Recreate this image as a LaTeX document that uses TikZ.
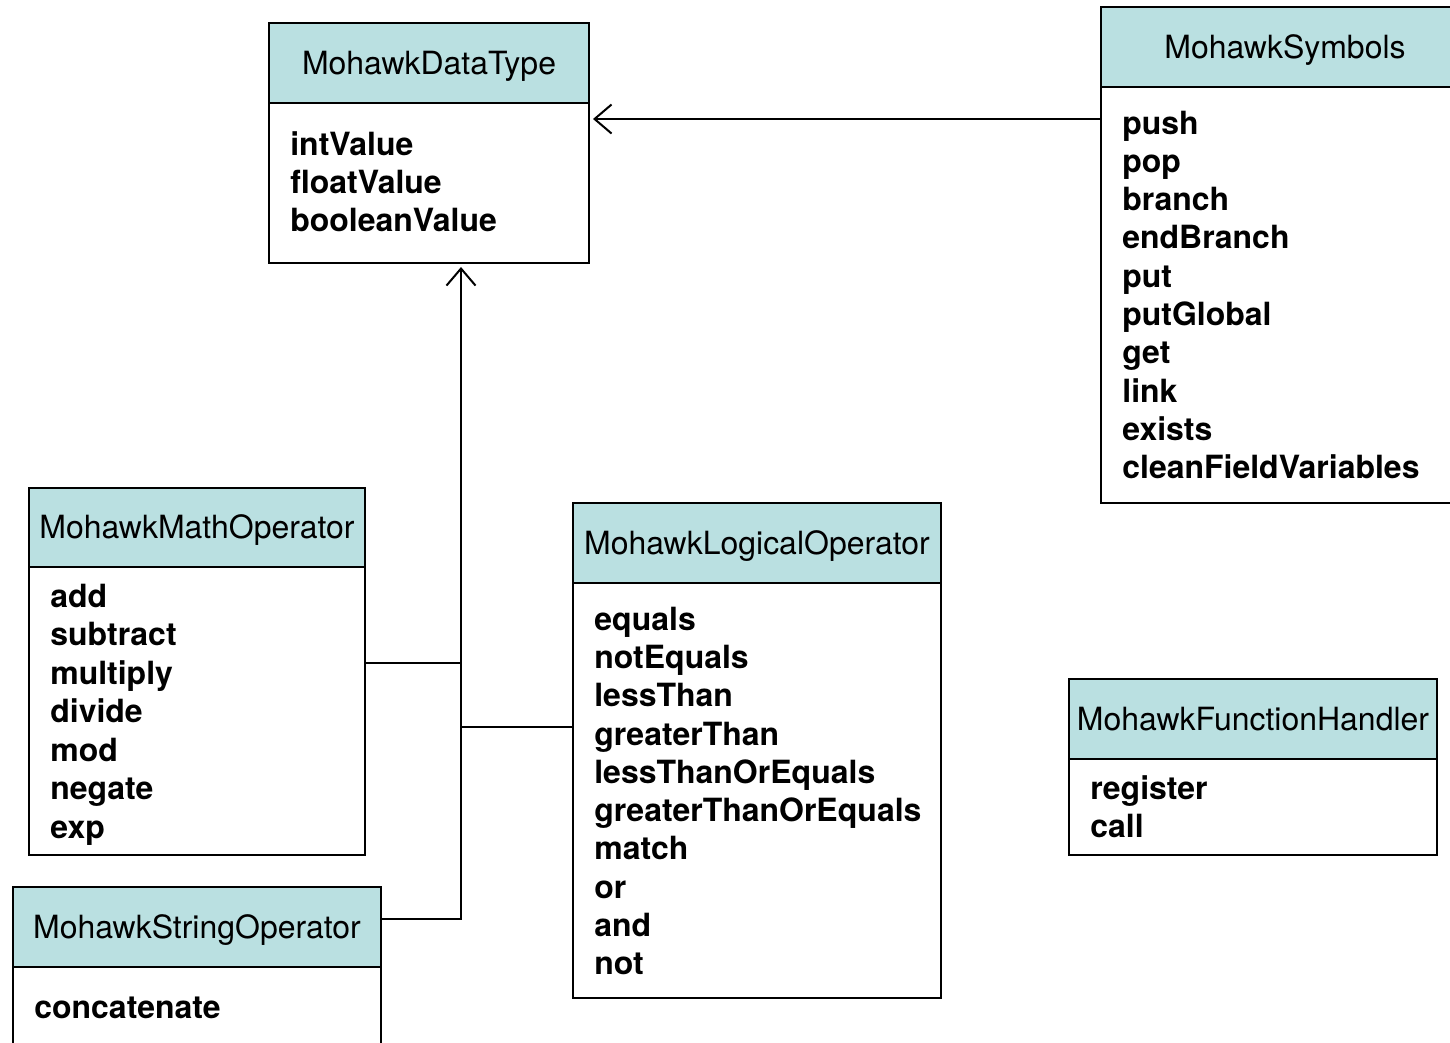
\documentclass[tikz,border=0pt]{standalone}
\usepackage{fontspec}
\setmainfont{TeX Gyre Heros}
\usetikzlibrary{arrows.meta}
\definecolor{hdrfill}{RGB}{186,224,225}
\def\pxl{0.02cm}
\tikzset{
  hdr/.style={draw, fill=hdrfill, line width=0.05cm, inner sep=0pt, outer sep=0pt, anchor=north west,
    font=\fontsize{18.2}{22}\selectfont, text height=13pt, text depth=0pt},
  bodybox/.style={draw, fill=white, line width=0.05cm, inner sep=0pt, outer sep=0pt, anchor=north west},
  item/.style={anchor=base west, inner sep=0pt, font=\fontsize{18.2}{22}\selectfont\bfseries},
  conn/.style={line width=0.04cm},
  inh/.style={conn, -{Straight Barb[length=0.34cm, width=0.58cm, line width=0.04cm]}, shorten >=0.08cm}
}
\begin{document}
\begin{tikzpicture}[x=0.02cm, y=-0.02cm]
\clip (0,0) rectangle (1450,1042);
\fill[white] (0,0) rectangle (1450,1042);

% MohawkDataType
\node[hdr, minimum width=320*\pxl, minimum height=80*\pxl] (dt) at (269,23) {MohawkDataType};
\node[bodybox, minimum width=320*\pxl, minimum height=160*\pxl] (dtb) at (dt.south west) {};
\foreach \t [count=\i] in {intValue,floatValue,booleanValue}
  \node[item] (dt-\i) at (290,{155+(\i-1)*38.4}) {\t};

% MohawkSymbols (runs past the right edge)
\node[hdr, minimum width=368*\pxl, minimum height=80*\pxl] (sy) at (1101,7) {MohawkSymbols};
\node[bodybox, minimum width=368*\pxl, minimum height=416*\pxl] (syb) at (sy.south west) {};
\foreach \t [count=\i] in {push,pop,branch,endBranch,put,putGlobal,get,link,exists,cleanFieldVariables}
  \node[item] (sy-\i) at (1122,{134+(\i-1)*38.33}) {\t};

% MohawkMathOperator
\node[hdr, minimum width=336*\pxl, minimum height=79*\pxl] (mo) at (29,488) {MohawkMathOperator};
\node[bodybox, minimum width=336*\pxl, minimum height=288*\pxl] (mob) at (mo.south west) {};
\foreach \t [count=\i] in {add,subtract,multiply,divide,mod,negate,exp}
  \node[item] (mo-\i) at (50,{607+(\i-1)*38.5}) {\t};

% MohawkLogicalOperator
\node[hdr, minimum width=368*\pxl, minimum height=80*\pxl] (lo) at (573,503) {MohawkLogicalOperator};
\node[bodybox, minimum width=368*\pxl, minimum height=415*\pxl] (lob) at (lo.south west) {};
\foreach \t [count=\i] in {equals,notEquals,lessThan,greaterThan,lessThanOrEquals,greaterThanOrEquals,match,or,and,not}
  \node[item] (lo-\i) at (594,{630+(\i-1)*38.33}) {\t};

% MohawkFunctionHandler
\node[hdr, minimum width=368*\pxl, minimum height=80*\pxl] (fh) at (1069,679) {MohawkFunctionHandler};
\node[bodybox, minimum width=368*\pxl, minimum height=96*\pxl] (fhb) at (fh.south west) {};
\foreach \t [count=\i] in {register,call}
  \node[item] (fh-\i) at (1090,{799+(\i-1)*38.5}) {\t};

% MohawkStringOperator (runs past the bottom edge)
\node[hdr, minimum width=368*\pxl, minimum height=80*\pxl] (so) at (13,887) {MohawkStringOperator};
\node[bodybox, minimum width=368*\pxl, minimum height=120*\pxl] (sob) at (so.south west) {};
\node[item] (so-1) at (34,1018) {concatenate};

% connectors
\coordinate (js) at (1101,119);
\coordinate (jx) at (461,919);
\coordinate (jm) at (461,663);
\coordinate (jl) at (461,727);
\draw[inh] (syb.west |- js) -- (dtb.east |- js);
\draw[inh] (jx -| so.east) -- (jx) -- (jx |- dtb.south);
\draw[conn] (jm -| mob.east) -- (jm);
\draw[conn] (jl -| lob.west) -- (jl);
\end{tikzpicture}
\end{document}
